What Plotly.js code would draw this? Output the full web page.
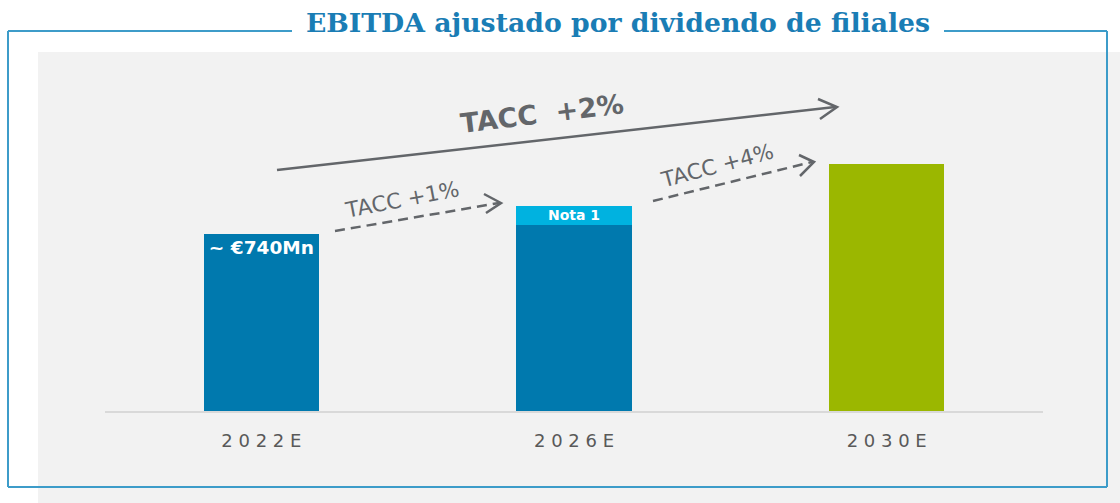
<!DOCTYPE html>
<html>
<head>
<meta charset="utf-8">
<script src="https://cdn.plot.ly/plotly-3.0.1.min.js"></script>
<style>html,body{margin:0;padding:0;background:#fff;}#chart{width:1120px;height:503px;}</style>
</head>
<body>
<div id="chart"></div>
<script>
// ---- data ----
const categories = ['2022E', '2026E', '2030E'];
const baseValues = [740, 778, 1033];
const notaValues = [0, 80, 0];
const baseLabels = ['~ €740Mn', '', ''];
const notaLabels = ['', 'Nota 1', ''];
const titleText = 'EBITDA ajustado por dividendo de filiales';
const growthLabels = ['TACC  +2%', 'TACC +1%', 'TACC +4%'];

// ---- layout helpers (pixel -> paper) ----
const W = 1120, H = 503;
const L = 105, R = 1043, T = 52, B = 411;
const px = x => (x - L) / (R - L);
const py = y => (B - y) / (B - T);

const grey = '#63666a';
const frameColor = '#3d9cc9';

function seg(x0, y0, x1, y1, color, width, dash) {
  return {type: 'line', xref: 'paper', yref: 'paper', x0: px(x0), y0: py(y0), x1: px(x1), y1: py(y1),
          line: {color: color, width: width, dash: dash || 'solid'}, layer: 'above'};
}
function chevron(tx, ty, ax, ay, bx, by, color, width) {
  return {type: 'path', xref: 'paper', yref: 'paper',
    path: `M ${px(ax)} ${py(ay)} L ${px(tx)} ${py(ty)} L ${px(bx)} ${py(by)}`,
    line: {color: color, width: width}, layer: 'above'};
}

const shapes = [
  // grey panel
  {type: 'rect', xref: 'paper', yref: 'paper', x0: px(38), x1: px(1120), y0: py(52), y1: py(503),
   fillcolor: '#f2f2f2', line: {width: 0}, layer: 'below'},
  // frame
  seg(8, 31, 292, 31, frameColor, 2),
  seg(944, 31, 1107, 31, frameColor, 2),
  seg(8, 31, 8, 487, frameColor, 2),
  seg(1107, 31, 1107, 487, frameColor, 2),
  seg(8, 487, 1107, 487, frameColor, 2),
  // growth arrows
  seg(277, 170, 835, 107, grey, 2.5),
  chevron(837, 107, 818, 99, 820, 119, grey, 2.5),
  seg(335, 231, 499, 203, grey, 2.5, '10px,6px'),
  chevron(501, 203, 484, 194, 486, 213, grey, 2.5),
  seg(653, 201, 812, 162, grey, 2.5, '10px,6px'),
  chevron(814, 162, 799, 155, 800, 176, grey, 2.5)
];

const annotations = [
  {xref: 'paper', yref: 'paper', x: px(542), y: py(113), xanchor: 'center', yanchor: 'middle',
   text: '<b>' + growthLabels[0] + '</b>', showarrow: false,
   textangle: -7, font: {family: 'DejaVu Sans', size: 27, color: grey}},
  {xref: 'paper', yref: 'paper', x: px(402), y: py(199), xanchor: 'center', yanchor: 'middle',
   text: growthLabels[1], showarrow: false,
   textangle: -11, font: {family: 'DejaVu Sans', size: 21.5, color: grey}},
  {xref: 'paper', yref: 'paper', x: px(717), y: py(165), xanchor: 'center', yanchor: 'middle',
   text: growthLabels[2], showarrow: false,
   textangle: -15, font: {family: 'DejaVu Sans', size: 21.5, color: grey}}
];

const spaced = categories.map(c => c.split('').join(' '));

const traces = [
  {type: 'bar', x: categories, y: baseValues, width: 0.368,
   marker: {color: ['#0079ae', '#0079ae', '#9bb700'], line: {width: 0}},
   text: baseLabels, textposition: 'inside', insidetextanchor: 'end', constraintext: 'none',
   textfont: {family: 'DejaVu Sans', size: 18.5, color: '#ffffff', weight: 'bold'},
   hoverinfo: 'skip'},
  {type: 'bar', x: categories, y: notaValues, width: 0.368,
   marker: {color: '#00b2e0', line: {width: 0}},
   text: notaLabels, textposition: 'inside', insidetextanchor: 'middle', constraintext: 'none',
   textfont: {family: 'DejaVu Sans', size: 14, color: '#ffffff', weight: 'bold'},
   hoverinfo: 'skip'}
];

const layout = {
  width: W, height: H,
  paper_bgcolor: '#ffffff', plot_bgcolor: 'rgba(0,0,0,0)',
  margin: {l: L, r: W - R, t: T, b: H - B, pad: 0},
  barmode: 'stack', bargap: 0, showlegend: false,
  title: {text: '<b>' + titleText + '</b>', x: 618 / W, xanchor: 'center', xref: 'container',
          y: 1 - 23 / H, yanchor: 'middle', yref: 'container',
          font: {family: 'DejaVu Serif', size: 26.7, color: '#1a7db5'}},
  xaxis: {type: 'category', range: [-0.5, 2.5], showgrid: false, zeroline: false,
          showline: true, linecolor: '#d9d9d9', linewidth: 2, ticks: '',
          tickvals: categories, ticktext: spaced, ticklabelstandoff: 12,
          tickfont: {family: 'DejaVu Sans', size: 18, color: '#595959'}, fixedrange: true},
  yaxis: {range: [0, 1501], visible: false, fixedrange: true},
  shapes: shapes, annotations: annotations
};

Plotly.newPlot('chart', traces, layout, {staticPlot: true, displayModeBar: false});
</script>
</body>
</html>
